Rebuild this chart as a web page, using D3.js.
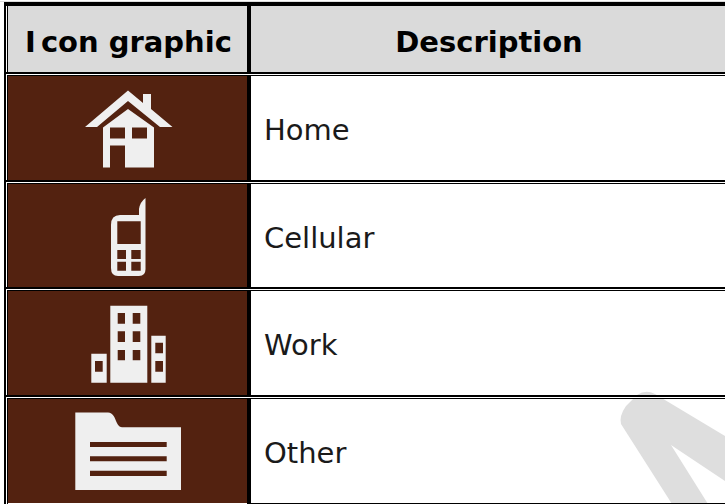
<!DOCTYPE html>
<html>
<head>
<meta charset="utf-8">
<script src="https://cdn.jsdelivr.net/npm/d3@7"></script>
<style>
html, body { margin: 0; padding: 0; background: #fff; overflow: hidden; }
svg { display: block; }
text { font-family: "DejaVu Sans", Verdana, sans-serif; }
</style>
</head>
<body>
<script>
const headers = ["Icon graphic", "Description"];
const descriptions = ["Home", "Cellular", "Work", "Other"];

// icon outlines, local to the row and the left of the page
const iconPaths = {
    Home: "M85 52L128 15.5L143 28V19H151V34L172.5 52H160L128 26L97 52Z" +
        "M103 52.5L128 34L154 52.5V92.5H125V70.5H110V92.5H103Z" +
        "M110 52.5V63.5H125V52.5ZM132 52.5V63.5H147V52.5Z",
    Cellular: "M111 42Q111 32 120 32H139V26Q140 19 145.5 15V85Q146 93 139 93H118Q111 93 111 85Z" +
        "M117.3 38.3V61H140.7V38.3ZM117.3 67V76H126V67ZM131.3 67V76H140.7V67ZM117.3 78.7V87.7H126V78.7ZM131.3 78.7V87.7H140.7V78.7Z",
    Work: "M110.3 15.7H147.3V92.7H110.3Z" +
        "M117.7 23V33.7H125V23ZM132.7 23V33.7H140.3V23ZM117.7 41.3V52H125V41.3ZM132.7 41.3V52H140.3V41.3ZM117.7 60V70.3H125V60ZM132.7 60V70.3H140.3V60Z" +
        "M91.3 63.7H106.7V92.7H91.3ZM95 71V81.7H102.7V71Z" +
        "M151.3 45.7H165.7V92.7H151.3ZM155.3 52.7V63.3H163V52.7ZM155.3 71V81.7H163V71Z",
    Other: "M75.3 14.5H108C113 14.5 115 20 116 23C118 27 119 29.2 122 29.2H181V92H75.3Z" +
        "M90 44V49H166.7V44ZM90 58.3V63.3H166.7V58.3ZM90 72.7V78H166.7V72.7Z"
};

const width = 725;
const height = 504;

const svg = d3.select("body").append("svg")
    .attr("width", width)
    .attr("height", height);

const y = d3.scaleBand()
    .domain(descriptions)
    .range([76, 503])
    .paddingInner(0.034)
    .paddingOuter(0);

const x = d3.scaleOrdinal()
    .domain(headers)
    .range([128.5, 489]);

const rowTop = d => Math.round(y(d));
const rowBottom = (d, i) => i < descriptions.length - 1 ? rowTop(descriptions[i + 1]) - 4 : 503;

// watermark sits behind the rules
svg.append("path")
    .attr("d", "M621 424Q619 416 626 406L637 395Q646 389 655 394L725 436V481L671 445L708 504H672Z")
    .attr("fill", "#dedede");

// header
svg.append("rect").attr("x", 0).attr("y", 1).attr("width", width).attr("height", 1).attr("fill", "#dcdcdc");
svg.append("rect").attr("x", 4).attr("y", 2).attr("width", width).attr("height", 4).attr("fill", "#000");
svg.append("rect").attr("x", 8).attr("y", 6).attr("width", width).attr("height", 66).attr("fill", "#dadada");

svg.selectAll(".head")
    .data(headers)
    .join("text")
    .attr("class", "head")
    .attr("x", d => x(d))
    .attr("y", 51.5)
    .attr("text-anchor", "middle")
    .attr("font-size", 29)
    .attr("font-weight", "bold")
    .attr("dx", d => d === "Icon graphic" ? "0 5" : null)
    .attr("fill", "#000")
    .text(d => d);

// rows
const row = svg.selectAll(".row")
    .data(descriptions)
    .join("g")
    .attr("class", "row");

row.append("rect")
    .attr("x", 8)
    .attr("y", rowTop)
    .attr("width", 239)
    .attr("height", (d, i) => rowBottom(d, i) - rowTop(d))
    .attr("fill", "#532210");

row.append("path")
    .attr("transform", d => `translate(0,${rowTop(d) - 1})`)
    .attr("d", d => iconPaths[d])
    .attr("fill", "#efefef")
    .attr("fill-rule", "evenodd");

row.append("text")
    .attr("x", 264)
    .attr("y", d => rowTop(d) + 63.5)
    .attr("font-size", 29)
    .attr("fill", "#1a1a1a")
    .text(d => d);

// vertical rules
svg.append("rect").attr("x", 4).attr("y", 2).attr("width", 2).attr("height", height).attr("fill", "#000");
svg.append("rect").attr("x", 7).attr("y", 6).attr("width", 1).attr("height", height).attr("fill", "#000");
svg.append("rect").attr("x", 247).attr("y", 6).attr("width", 4).attr("height", height).attr("fill", "#000");

// double rule above each row: 2px black, 1px white, 1px black
const ruleTops = descriptions.map(d => rowTop(d) - 4);

svg.selectAll(".rule-thick")
    .data(ruleTops)
    .join("rect")
    .attr("class", "rule-thick")
    .attr("x", 6)
    .attr("y", d => d)
    .attr("width", width)
    .attr("height", 2)
    .attr("fill", "#000");

svg.selectAll(".rule-gap")
    .data(ruleTops)
    .join("rect")
    .attr("class", "rule-gap")
    .attr("x", 6)
    .attr("y", d => d + 2)
    .attr("width", width)
    .attr("height", 1)
    .attr("fill", "#fff");

svg.selectAll(".rule-thin")
    .data(ruleTops)
    .join("rect")
    .attr("class", "rule-thin")
    .attr("x", 7)
    .attr("y", d => d + 3)
    .attr("width", width)
    .attr("height", 1)
    .attr("fill", "#000");

svg.append("rect").attr("x", 251).attr("y", 503).attr("width", width).attr("height", 1).attr("fill", "#000");
</script>
</body>
</html>
